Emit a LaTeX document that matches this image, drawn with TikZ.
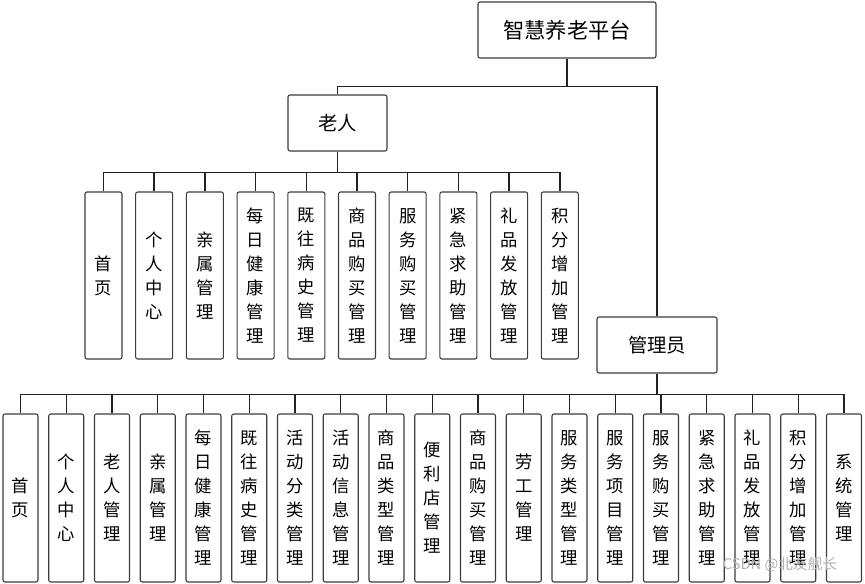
\documentclass[tikz,border=0pt]{standalone}
\usepackage{fontspec}
\setmainfont{Noto Sans CJK SC}
\usepackage{xcolor}
\definecolor{lineblk}{HTML}{222222}
\definecolor{boxgray}{HTML}{3C3C3C}
\definecolor{markgray}{HTML}{B0B0B0}
\usepackage{tikz}
\usetikzlibrary{positioning, calc}
\tikzset{
  rootbox/.style ={rectangle, rounded corners=1.5pt, draw=boxgray, line width=0.8pt, fill=white,
                   align=center, minimum width=133.5pt, minimum height=42pt, font=\fontsize{16}{19}\selectfont},
  rolebox/.style ={rectangle, rounded corners=1.5pt, draw=boxgray, line width=0.8pt, fill=white,
                   align=center, minimum height=42pt, font=\fontsize{14.5}{17}\selectfont},
  funcbox/.style ={rectangle, rounded corners=1.5pt, draw=boxgray, line width=0.8pt, fill=white,
                   align=center, inner sep=0pt, minimum width=27.75pt, minimum height=125.25pt,
                   font=\fontsize{13}{18}\selectfont},
  funcboxs/.style={funcbox, minimum width=26.25pt, minimum height=126pt},
  conn/.style    ={line width=1.1pt, color=lineblk},
}

\begin{document}
\begin{tikzpicture}[x=0.75pt, y=-0.75pt]
  \useasboundingbox (0,0) rectangle (865,584);
  \node[rootbox] (root) at (567,30) {智慧养老平台};
  \node[rolebox, minimum width=74.25pt] (elder) at (337.5,123) {老人};
  \node[rolebox, minimum width=90pt] (admin) at (657,345) {管理员};
  % 老人
  \foreach \lbl [count=\i from 0] in {{首\\页}, {个\\人\\中\\心}, {亲\\属\\管\\理}, {每\\日\\健\\康\\管\\理},
      {既\\往\\病\\史\\管\\理}, {商\\品\\购\\买\\管\\理}, {服\\务\\购\\买\\管\\理}, {紧\\急\\求\\助\\管\\理},
      {礼\\品\\发\\放\\管\\理}, {积\\分\\增\\加\\管\\理}}
    \node[funcbox] (e\i) at (103.5+50.7*\i,275.5) {\lbl};
  % 管理员
  \foreach \lbl [count=\i from 0] in {{首\\页}, {个\\人\\中\\心}, {老\\人\\管\\理}, {亲\\属\\管\\理},
      {每\\日\\健\\康\\管\\理}, {既\\往\\病\\史\\管\\理}, {活\\动\\分\\类\\管\\理}, {活\\动\\信\\息\\管\\理},
      {商\\品\\类\\型\\管\\理}, {便\\利\\店\\管\\理}, {商\\品\\购\\买\\管\\理}, {劳\\工\\管\\理},
      {服\\务\\类\\型\\管\\理}, {服\\务\\项\\目\\管\\理}, {服\\务\\购\\买\\管\\理}, {紧\\急\\求\\助\\管\\理},
      {礼\\品\\发\\放\\管\\理}, {积\\分\\增\\加\\管\\理}, {系\\统\\管\\理}}
    \node[funcboxs] (a\i) at (20.5+45.75*\i,498) {\lbl};
  \draw[conn] (root.south) -- ++(0,28) coordinate (rbus);
  \draw[conn] (rbus) -| (elder.north);
  \draw[conn] (rbus) -| (admin.north);
  \draw[conn] (elder.south) -- ++(0,21) coordinate (ebus);
  \foreach \i in {0,...,9} \draw[conn] (ebus) -| (e\i.north);
  \draw[conn] (admin.south) -- ++(0,21) coordinate (abus);
  \foreach \i in {0,...,18} \draw[conn] (abus) -| (a\i.north);
  \node[font=\fontsize{11}{13}\selectfont, text=markgray] (mark) at (780,565) {CSDN @北友舰长};
\end{tikzpicture}
\end{document}
